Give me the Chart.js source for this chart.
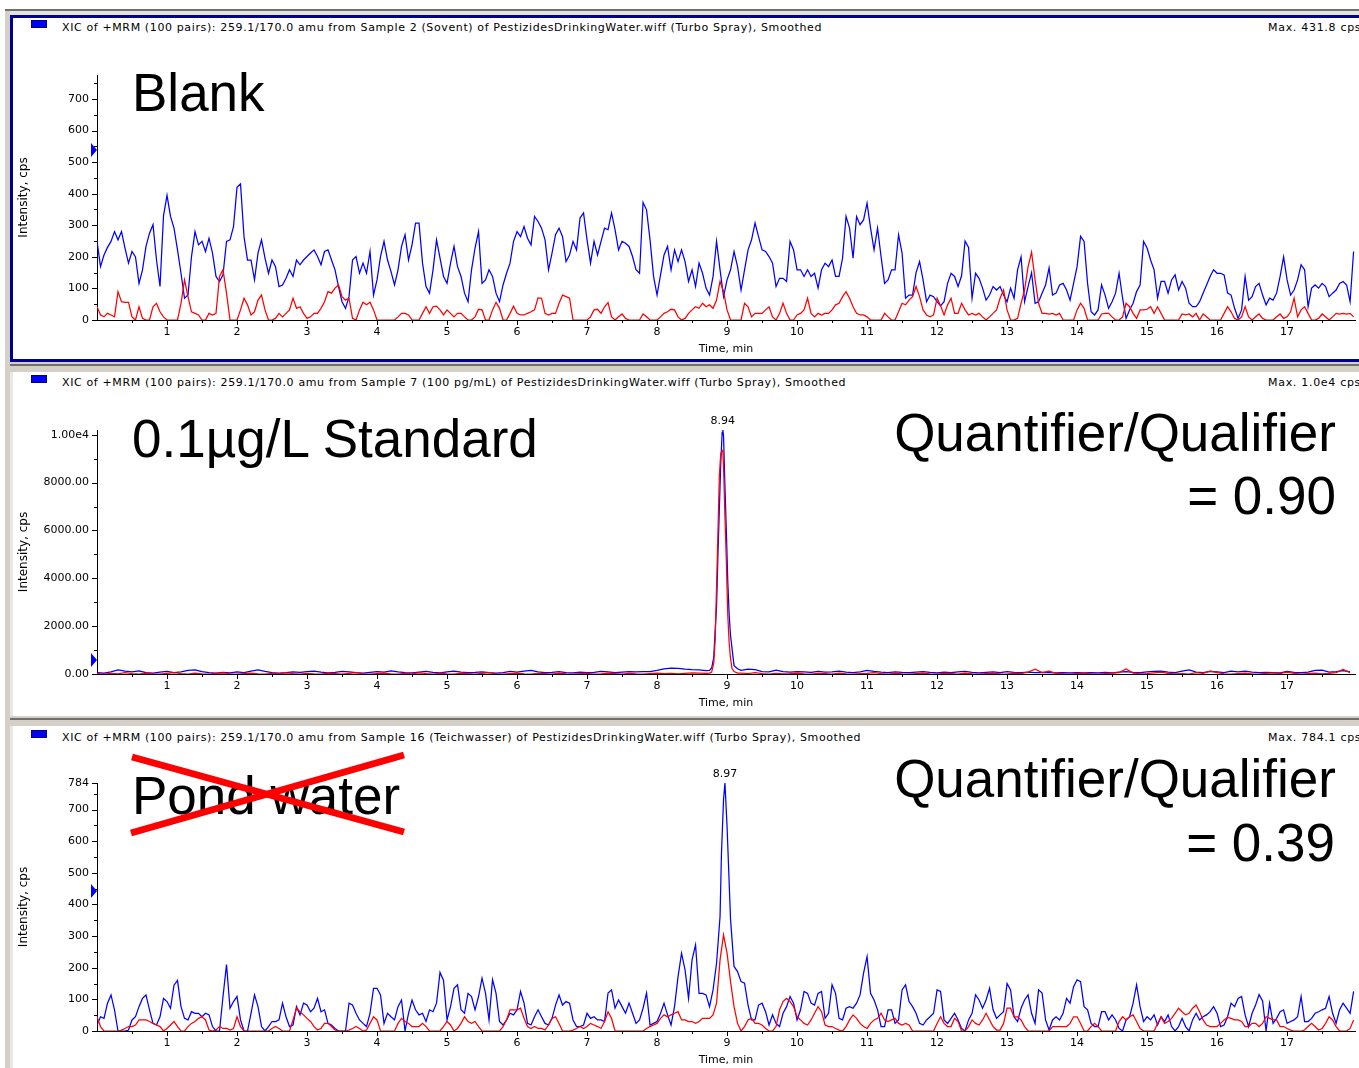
<!DOCTYPE html>
<html>
<head>
<meta charset="utf-8">
<script src="https://cdn.jsdelivr.net/npm/chart.js@4.4.1/dist/chart.umd.min.js"></script>
<style>
  html, body { margin:0; padding:0; width:1359px; height:1068px; overflow:hidden; background:#fff; }
  .abs { position:absolute; }
  .hdr { position:absolute; font-family:"DejaVu Sans", sans-serif; font-size:11px; color:#000; white-space:nowrap; line-height:13px; }
  .mx { letter-spacing:0.7px; }
  .big { position:absolute; font-family:"Liberation Sans", Arial, sans-serif; font-size:53px; line-height:53px; color:#000; white-space:nowrap; }
  .sq { position:absolute; width:14px; height:6px; background:#0000ff; border:1px solid #00007a; }
  .tri { position:absolute; width:0; height:0; border-top:7px solid transparent; border-bottom:7px solid transparent; border-left:6px solid #0000ff; }
  canvas { position:absolute; left:0; }
</style>
</head>
<body>
<!-- window frames -->
<div class="abs" style="left:5px;top:9px;width:1354px;height:2px;background:#6f6f6f"></div>
<div class="abs" style="left:5px;top:11px;width:1354px;height:4px;background:#e4e4e4"></div>
<div class="abs" style="left:5px;top:11px;width:5px;height:1057px;background:#d4d0c8"></div>
<div class="abs" style="left:10px;top:15px;width:1360px;height:347px;border:3px solid #000090;box-sizing:border-box;"></div>
<div class="abs" style="left:10px;top:362px;width:1349px;height:10px;background:#d4d0c8"></div>
<div class="abs" style="left:10px;top:364px;width:1349px;height:2px;background:#6f6f6f"></div>
<div class="abs" style="left:10px;top:372px;width:3px;height:344px;background:#e8e8e8"></div>
<div class="abs" style="left:10px;top:716px;width:1349px;height:10px;background:#d4d0c8"></div>
<div class="abs" style="left:10px;top:718px;width:1349px;height:2px;background:#6f6f6f"></div>
<div class="abs" style="left:10px;top:726px;width:3px;height:342px;background:#e8e8e8"></div>

<!-- headers -->
<div class="sq" style="left:31px;top:20px"></div>
<div class="hdr" id="h1" data-w="760" style="left:62px;top:21px">XIC of +MRM (100 pairs): 259.1/170.0 amu from Sample 2 (Sovent) of PestizidesDrinkingWater.wiff (Turbo Spray), Smoothed</div>
<div class="hdr mx" style="left:1268px;top:21px">Max. 431.8 cps</div>
<div class="sq" style="left:31px;top:375px"></div>
<div class="hdr" id="h2" data-w="784" style="left:62px;top:376px">XIC of +MRM (100 pairs): 259.1/170.0 amu from Sample 7 (100 pg/mL) of PestizidesDrinkingWater.wiff (Turbo Spray), Smoothed</div>
<div class="hdr mx" style="left:1268px;top:376px">Max. 1.0e4 cps</div>
<div class="sq" style="left:31px;top:730px"></div>
<div class="hdr" id="h3" data-w="799" style="left:62px;top:731px">XIC of +MRM (100 pairs): 259.1/170.0 amu from Sample 16 (Teichwasser) of PestizidesDrinkingWater.wiff (Turbo Spray), Smoothed</div>
<div class="hdr mx" style="left:1268px;top:731px">Max. 784.1 cps</div>

<canvas id="c1" width="1359" height="300" style="top:60px"></canvas>
<canvas id="c2" width="1359" height="299" style="top:415px"></canvas>
<canvas id="c3" width="1359" height="303" style="top:768px"></canvas>

<div class="tri" style="left:91px;top:143px"></div>
<div class="tri" style="left:91px;top:653px"></div>
<div class="tri" style="left:91px;top:884px"></div>

<div class="big" style="left:132px;top:66px">Blank</div>
<div class="big" style="left:132px;top:412px">0.1µg/L Standard</div>
<div class="big" style="right:23px;top:406px">Quantifier/Qualifier</div>
<div class="big" style="right:23px;top:469px">= 0.90</div>
<div class="big" style="left:132px;top:769px">Pond water</div>
<div class="big" style="right:23px;top:752px">Quantifier/Qualifier</div>
<div class="big" style="right:24px;top:816px">= 0.39</div>
<svg class="abs" style="left:0;top:0" width="1359" height="1068">
  <line x1="132" y1="757" x2="404" y2="832" stroke="#ff0000" stroke-width="7"/>
  <line x1="131" y1="833" x2="404" y2="755" stroke="#ff0000" stroke-width="7"/>
</svg>

<script>
// ---------------- DATA ----------------
// Blank panel, sampled every 0.05 min starting at 0.00 min (one row = one minute)
const blankStart = 0, blankStep = 0.05;
const blankQuantifier = [
 250,169,206,230,249,280,254,280,228,180,217,200,116,159,233,275,302,190,106,330,
 395,328,291,222,148,69,79,201,280,238,249,217,259,212,138,122,143,249,254,296,
 420,431,264,190,190,127,212,254,196,148,190,169,106,111,132,159,138,190,175,190,
 201,212,222,201,175,217,222,190,159,106,58,37,74,190,201,148,180,148,217,79,
 127,201,249,190,153,111,159,233,270,190,238,307,307,180,106,85,159,254,196,138,
 116,180,233,169,138,85,58,159,228,280,116,127,159,138,85,58,111,148,180,249,
 280,264,296,259,238,328,312,291,254,159,212,270,291,264,185,206,249,222,323,339,
 254,180,249,206,249,291,286,339,286,222,249,243,233,201,159,148,372,349,254,138,
 79,143,206,233,159,222,185,222,185,122,159,106,180,148,101,79,138,249,159,74,
 127,159,217,169,95,159,222,254,307,264,222,217,201,180,106,132,132,122,249,222,
 159,159,138,159,138,148,101,159,180,169,190,138,138,196,328,291,196,328,302,317,
 370,291,222,291,201,116,127,159,159,270,212,69,79,79,150,185,127,58,79,74,
 58,45,58,116,148,138,106,140,250,230,69,148,132,101,63,79,106,95,106,79,
 58,101,69,159,200,58,106,150,53,58,85,111,165,79,85,111,116,95,63,116,
 169,265,249,116,26,16,32,111,79,37,58,85,148,69,5,32,53,90,111,249,
 228,190,159,69,122,122,85,127,143,95,122,101,53,42,42,58,85,111,138,159,
 148,148,143,85,79,37,5,32,138,63,74,106,116,79,48,69,63,85,138,200,
 127,79,95,127,175,159,42,101,111,101,116,106,74,85,95,116,122,111,58,217
];
const blankQualifier = [
 42,16,10,21,16,10,90,58,56,56,10,0,42,5,0,0,42,53,26,10,
 0,0,0,0,53,127,74,26,21,16,0,0,21,16,21,138,159,85,0,0,
 0,32,69,48,16,26,63,79,32,0,0,5,21,10,21,32,69,37,42,21,
 5,10,21,21,37,58,90,85,101,111,74,63,69,5,0,32,56,48,56,32,
 0,0,0,0,0,0,10,21,21,16,0,0,0,21,42,21,42,44,32,16,
 32,21,10,21,21,10,0,0,10,34,32,0,0,32,56,37,0,0,21,44,
 21,16,16,21,26,32,70,69,21,16,21,21,53,79,74,69,0,0,0,0,
 0,10,32,34,21,42,55,10,0,10,19,5,0,0,0,0,19,10,0,0,
 0,10,21,26,34,32,10,0,5,21,32,42,37,53,42,48,37,63,122,90,
 32,0,0,0,0,53,42,10,21,21,21,32,42,10,0,21,53,21,0,0,
 16,21,32,69,21,10,21,16,21,21,32,48,53,74,90,69,42,21,16,16,
 10,0,0,0,0,21,10,0,0,26,53,48,63,74,106,74,32,16,10,16,
 69,45,16,48,69,21,21,53,32,16,21,16,21,10,0,10,21,32,69,95,
 32,0,0,5,53,95,169,215,127,53,21,21,19,21,16,21,0,0,0,0,
 32,53,37,0,0,0,0,19,21,21,10,0,0,10,53,42,21,5,32,32,
 34,42,21,42,21,0,0,0,0,0,19,16,19,10,21,0,19,10,0,0,
 0,0,21,42,26,5,0,10,42,10,0,10,19,5,0,0,0,10,19,5,
 10,26,69,10,32,42,21,0,0,5,19,10,0,10,21,19,21,19,21,10
];

// 0.1 µg/L standard: baseline every 0.1 min before and after the peak, peak sampled densely
const stdStartA = 0, stdStartB = 9.2, stdStep = 0.1;
const stdQuantA = [
 60,40,90,170,120,90,130,60,40,80,
 110,60,90,150,170,100,60,40,70,50,
 90,60,120,170,110,60,40,60,90,70,
 100,120,80,50,70,110,90,60,40,70,
 100,80,130,90,60,50,80,110,70,50,
 90,120,80,60,70,90,60,40,60,110,
 80,120,150,90,60,70,100,60,50,80,
 60,70,110,90,60,80,100,90,100,100,
 150,210,250,240,200,180,170,140
];
const stdQualA = [
 20,0,30,10,60,20,0,40,10,0,
 30,60,20,0,40,10,0,30,50,10,
 0,20,40,10,0,30,10,50,20,0,
 30,10,0,40,20,0,30,60,10,0,
 20,40,10,0,30,10,50,20,0,30,
 10,0,40,20,0,30,60,10,0,20,
 40,10,0,30,20,0,40,10,0,20,
 30,0,10,40,20,0,30,10,0,20,
 40,20,30,10,30,50,40,30
];
const stdPeakTime  = [8.75,8.78,8.81,8.83,8.85,8.87,8.89,8.91,8.93,8.94,8.95,8.97,8.99,9.01,9.03,9.05,9.07,9.10,9.15];
const stdPeakQuant = [150,250,700,1800,2800,5000,6900,8800,10100,10200,9950,7840,6000,3900,2500,1600,1100,350,220];
const stdPeakQual  = [40,80,450,1420,3650,5900,8300,9200,9350,9300,8670,6580,4700,2500,1300,650,240,100,40];
const stdQuantB = [
 150,200,180,100,90,160,100,80,
 100,90,70,110,80,90,120,80,60,90,
 150,110,80,60,90,70,60,80,100,70,
 50,80,60,90,110,70,50,70,90,60,
 100,70,60,80,60,70,60,50,60,50,
 60,50,60,50,70,50,80,100,70,60,
 90,110,120,80,60,120,170,80,60,110,
 90,60,120,90,120,80,60,70,60,50,
 110,70,60,80,150,160,80,100,140,90
];
const stdQualB = [
 40,20,60,20,0,30,10,20,
 40,10,0,30,20,0,40,10,0,20,
 30,60,20,0,30,10,0,20,40,10,
 0,30,20,0,40,10,0,20,30,10,
 0,40,20,80,200,60,120,30,10,0,
 20,30,10,0,20,40,60,210,40,10,
 20,50,80,30,10,20,0,60,30,120,
 60,10,0,20,40,10,0,30,50,20,
 80,30,0,20,40,10,30,60,190,60
];

// Pond water, sampled every 0.05 min starting at 0.00 min
const pondStart = 0, pondStep = 0.05;
const pondQuantifier = [
 20,45,40,88,114,67,0,0,0,3,35,45,77,103,114,67,24,19,45,103,
 93,72,145,160,77,40,35,61,56,56,45,56,51,14,0,0,109,210,72,93,
 109,35,0,0,56,114,77,14,0,14,30,30,35,88,45,14,19,77,51,88,
 82,61,72,103,61,67,24,19,8,0,0,0,88,82,56,35,24,14,56,135,
 135,114,24,56,45,35,77,98,0,56,98,67,51,56,30,67,61,88,185,160,
 35,77,135,146,67,56,119,109,67,109,167,119,35,162,119,30,19,35,56,51,
 67,125,88,24,19,45,67,45,24,19,40,82,114,82,93,88,35,14,14,19,
 56,40,45,35,35,30,120,130,72,98,77,56,88,56,24,35,72,120,19,24,
 30,56,88,51,19,77,172,246,193,103,225,272,119,119,114,77,130,214,362,732,
 647,352,204,188,156,151,82,35,35,82,88,61,19,51,24,14,56,77,109,88,
 35,67,125,119,88,82,119,125,40,56,146,119,40,35,72,77,72,88,114,183,
 235,119,98,67,14,14,67,67,24,35,130,146,93,77,56,24,19,35,45,56,
 130,125,35,24,40,56,35,8,0,35,56,114,98,72,98,135,67,40,51,61,
 150,130,45,30,72,98,114,56,24,130,120,35,3,35,45,35,56,103,88,140,
 162,156,77,67,24,14,14,61,61,35,51,35,8,0,35,45,88,146,77,30,
 45,35,51,19,45,30,51,14,0,14,40,14,0,35,56,35,45,51,61,77,
 56,14,19,45,88,77,103,109,51,14,56,82,115,95,0,88,24,40,61,67,
 24,30,35,45,109,30,30,40,56,61,67,72,109,56,24,67,88,72,56,125
];
const pondQuantifierApex = [[8.92, 560], [8.97, 784]];
const pondQualifier = [
 45,14,0,0,0,0,0,3,8,14,14,19,35,35,35,30,24,19,14,0,
 8,19,30,14,0,0,14,24,30,40,45,35,3,0,3,14,8,8,3,8,
 45,14,0,0,0,0,0,0,0,0,8,14,8,0,0,0,35,72,61,51,
 40,30,14,3,8,24,24,14,3,0,0,0,3,8,14,8,0,3,24,45,
 35,0,0,0,0,0,24,40,30,24,14,14,14,24,14,0,0,0,0,14,
 30,19,0,8,24,45,30,24,30,14,0,0,0,0,0,0,14,35,67,67,
 67,72,40,14,8,14,8,8,3,19,40,45,24,0,0,0,3,8,14,8,
 14,24,19,14,8,30,61,40,0,0,0,0,0,0,0,0,0,8,14,19,
 24,40,51,45,51,56,61,35,35,30,30,24,30,40,40,40,51,88,225,304,
 246,156,77,24,0,14,35,40,24,24,19,8,0,0,14,67,93,103,93,77,
 45,35,24,19,35,56,77,61,19,14,14,8,3,0,14,35,51,40,24,14,
 8,24,35,40,56,35,30,35,40,24,19,24,19,0,0,0,0,0,0,0,
 24,45,24,14,14,40,30,0,0,14,35,24,19,35,56,35,14,3,3,24,
 72,72,45,45,35,14,0,0,0,0,0,0,0,14,14,14,14,14,24,45,
 45,24,0,0,14,24,14,0,0,0,0,0,30,45,35,45,51,30,8,0,
 0,0,0,24,45,24,30,40,56,72,61,51,56,72,82,61,35,19,14,14,
 14,24,35,43,40,35,35,30,14,14,24,24,14,24,45,40,35,35,14,14,
 8,3,0,0,0,3,14,24,14,3,8,24,45,35,14,0,0,0,8,35
];

// axis ticks
const timeTickLabels = [1,2,3,4,5,6,7,8,9,10,11,12,13,14,15,16,17];
const timeMax = 17.97;
const blankYTicks = [0,100,200,300,400,500,600,700];
const blankYMax = 776;
const stdYTicks = [0,2000,4000,6000,8000,10000];
const stdYLabels = ['0.00','2000.00','4000.00','6000.00','8000.00','1.00e4'];
const stdYMax = 10200;
const pondYTicks = [0,100,200,300,400,500,600,700,784];
const pondYMax = 784;
const peakLabels = { std: [8.94, 10200, '8.94'], pond: [8.97, 784, '8.97'] };

// ---------------- BUILD ----------------
function gridPoints(start, step, values) {
  return values.map((v, i) => ({ x: +(start + i * step).toFixed(3), y: v }));
}
function withExtras(points, extras) {
  const p = points.concat(extras.map(([x, y]) => ({ x, y })));
  p.sort((a, b) => a.x - b.x);
  return p;
}
function pairPoints(times, values) { return times.map((t, i) => ({ x: t, y: values[i] })); }

const FONT = "DejaVu Sans";

const tickPlugin = {
  id: 'tickPlugin',
  afterDraw(chart) {
    const o = chart.options.plugins.tickPlugin;
    const { ctx, chartArea: a, scales: { x, y } } = chart;
    ctx.save();
    ctx.strokeStyle = '#000';
    ctx.lineWidth = 1;
    ctx.beginPath();
    o.xMajor.forEach(v => { const px = Math.round(x.getPixelForValue(v)) + 0.5; ctx.moveTo(px, a.bottom); ctx.lineTo(px, a.bottom + 5); });
    o.xMinor.forEach(v => { const px = Math.round(x.getPixelForValue(v)) + 0.5; ctx.moveTo(px, a.bottom); ctx.lineTo(px, a.bottom + 3); });
    o.yMajor.forEach(v => { const py = Math.round(y.getPixelForValue(v)) + 0.5; ctx.moveTo(a.left, py); ctx.lineTo(a.left - 5, py); });
    o.yMinor.forEach(v => { const py = Math.round(y.getPixelForValue(v)) + 0.5; ctx.moveTo(a.left, py); ctx.lineTo(a.left - 3, py); });
    ctx.stroke();
    if (o.peak) {
      const [pt, pv, txt] = o.peak;
      ctx.fillStyle = '#000';
      ctx.font = '11px "' + FONT + '"';
      ctx.textAlign = 'center';
      ctx.textBaseline = 'alphabetic';
      ctx.fillText(txt, x.getPixelForValue(pt), y.getPixelForValue(pv) - 6);
    }
    ctx.restore();
  }
};

function makeChart(id, quant, qual, yMax, yMajor, yLabelFn, minorStep, peak) {
  const yMinor = [];
  for (let v = minorStep; v < yMax; v += minorStep) if (!yMajor.includes(v)) yMinor.push(v);
  const xMinor = [0.5];
  timeTickLabels.forEach(t => { if (t + 0.5 < timeMax) xMinor.push(t + 0.5); });
  return new Chart(document.getElementById(id), {
    type: 'line',
    data: {
      datasets: [
        { data: qual, borderColor: '#ff0000', borderWidth: 1.25, pointRadius: 0, tension: 0, order: 0 },
        { data: quant, borderColor: '#0000ff', borderWidth: 1.25, pointRadius: 0, tension: 0, order: 1 }
      ]
    },
    options: {
      responsive: false, animation: false, devicePixelRatio: 1,
      parsing: false, normalized: true,
      layout: { padding: { top: 15, right: 4, left: 0, bottom: 0 } },
      plugins: {
        legend: { display: false }, tooltip: { enabled: false },
        tickPlugin: { xMajor: timeTickLabels, xMinor: xMinor, yMajor: yMajor, yMinor: yMinor, peak: peak }
      },
      scales: {
        x: {
          type: 'linear', min: 0, max: timeMax,
          afterBuildTicks: s => { s.ticks = timeTickLabels.map(v => ({ value: v })); },
          afterFit: s => { s.height = 40; },
          ticks: { autoSkip: false, maxRotation: 0, padding: 6, color: '#000', font: { family: FONT, size: 11 }, callback: v => String(v) },
          grid: { display: false, drawTicks: false },
          border: { display: true, color: '#000', width: 1 },
          title: { display: true, text: 'Time, min', color: '#000', font: { family: FONT, size: 11 }, padding: { top: 0, bottom: 4 } }
        },
        y: {
          type: 'linear', min: 0, max: yMax,
          afterBuildTicks: s => { s.ticks = yMajor.map(v => ({ value: v })); },
          afterFit: s => { s.width = 97; },
          ticks: { autoSkip: false, padding: 8, color: '#000', font: { family: FONT, size: 11 }, callback: (v, i) => yLabelFn(v, i) },
          grid: { display: false, drawTicks: false },
          border: { display: true, color: '#000', width: 1 },
          title: { display: true, text: 'Intensity, cps', color: '#000', font: { family: FONT, size: 12 }, padding: { top: 17, bottom: 0 } }
        }
      }
    },
    plugins: [tickPlugin]
  });
}

const blankQ = gridPoints(blankStart, blankStep, blankQuantifier);
const blankR = gridPoints(blankStart, blankStep, blankQualifier);
makeChart('c1', blankQ, blankR, blankYMax, blankYTicks, v => String(v), 50, null);

const stdQ = gridPoints(stdStartA, stdStep, stdQuantA).concat(pairPoints(stdPeakTime, stdPeakQuant), gridPoints(stdStartB, stdStep, stdQuantB));
const stdR = gridPoints(stdStartA, stdStep, stdQualA).concat(pairPoints(stdPeakTime, stdPeakQual), gridPoints(stdStartB, stdStep, stdQualB));
makeChart('c2', stdQ, stdR, stdYMax, stdYTicks, (v, i) => stdYLabels[stdYTicks.indexOf(v)] || '', 1000, peakLabels.std);

const pondQ = withExtras(gridPoints(pondStart, pondStep, pondQuantifier), pondQuantifierApex);
const pondR = gridPoints(pondStart, pondStep, pondQualifier);
makeChart('c3', pondQ, pondR, pondYMax, pondYTicks, v => String(v), 50, peakLabels.pond);

// fit header widths to the reference
document.querySelectorAll('.hdr[data-w]').forEach(el => {
  const target = +el.dataset.w;
  const w = el.getBoundingClientRect().width;
  const n = el.textContent.length;
  el.style.letterSpacing = ((target - w) / n).toFixed(3) + 'px';
});
</script>
</body>
</html>
